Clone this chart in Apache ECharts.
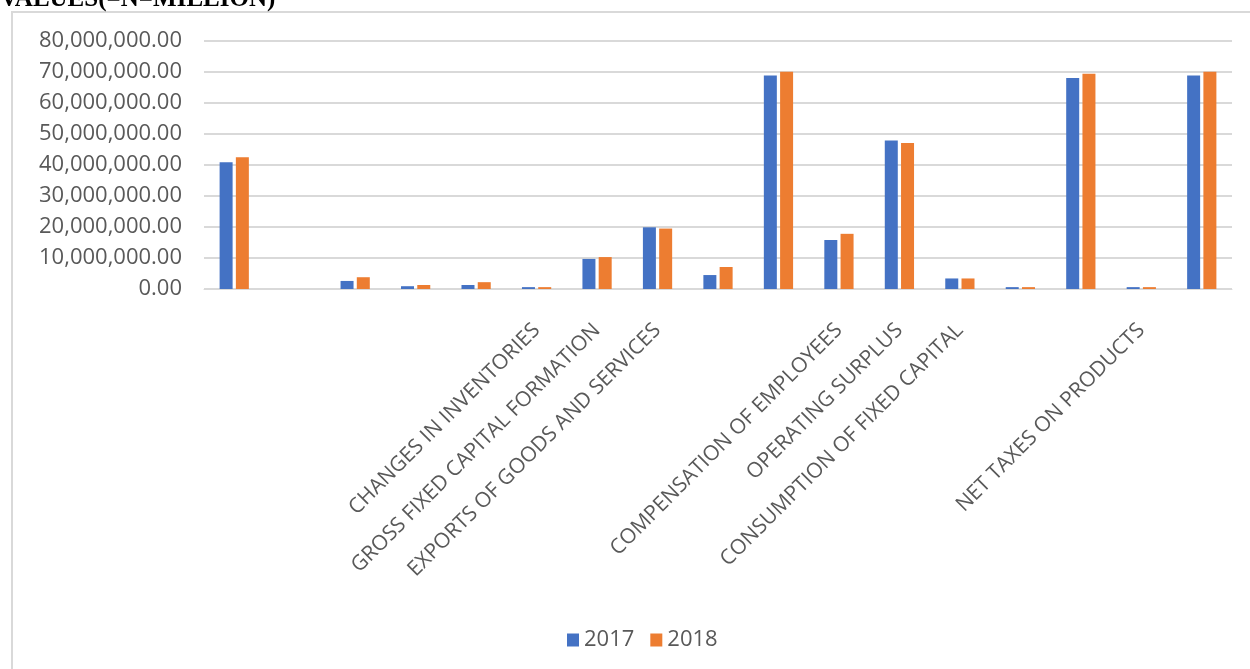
<!DOCTYPE html>
<html>
<head>
  <meta charset="utf-8">
  <title>Values (=N= million)</title>
  <style type="text/css">
    html, body { margin: 0; padding: 0; background: #fff; }
    #main { width: 1250px; height: 669px; }
  </style>
</head>
<body>
<div id="main"></div>
<script type="text/javascript" src="https://cdn.jsdelivr.net/npm/echarts@6/dist/echarts.min.js"></script>
<script type="text/javascript">
  // categories (only some of them carry a label in the source chart)
  var categories = [
    '', '', '', '', '',
    'CHANGES IN INVENTORIES',
    'GROSS FIXED CAPITAL FORMATION',
    'EXPORTS OF GOODS AND SERVICES',
    '', '',
    'COMPENSATION OF EMPLOYEES',
    'OPERATING SURPLUS',
    'CONSUMPTION OF FIXED CAPITAL',
    '', '',
    'NET TAXES ON PRODUCTS',
    ''
  ];
  var values2017 = [40900000, 0, 2600000, 900000, 1300000, 600000, 9700000, 19900000, 4500000,
    68900000, 15800000, 47900000, 3400000, 600000, 68100000, 600000, 68900000];
  var values2018 = [42500000, 0, 3800000, 1300000, 2200000, 600000, 10300000, 19500000, 7100000,
    70100000, 17800000, 47100000, 3400000, 600000, 69400000, 600000, 70100000];
  var yTicks = { min: 0, max: 80000000, step: 10000000 };

  function fmt(v) {
    var s = v.toFixed(2).split('.');
    return s[0].replace(/\B(?=(\d{3})+(?!\d))/g, ',') + '.' + s[1];
  }

  var txt = '#595959';
  var font = '"Open Sans", "Noto Sans", sans-serif';

  var myChart = echarts.init(document.getElementById('main'));
  var option = {
    animation: false,
    color: ['#4472C4', '#ED7D31'],
    graphic: [
      {
        type: 'rect',
        shape: { x: 12, y: 12, width: 1260, height: 700 },
        style: { fill: 'none', stroke: '#d9d9d9', lineWidth: 2 },
        silent: true
      },
      {
        type: 'text',
        x: 0,
        y: 12,
        style: {
          text: 'VALUES(=N=MILLION)',
          font: 'bold 25px "Liberation Serif", "Times New Roman", serif',
          fill: '#000',
          verticalAlign: 'bottom'
        },
        silent: true
      }
    ],
    grid: { left: 204, right: 18, top: 41, bottom: 380, containLabel: false },
    legend: {
      data: ['2017', '2018'],
      left: 562,
      top: 624,
      icon: 'rect',
      itemWidth: 12,
      itemHeight: 13,
      itemGap: 16,
      textStyle: { color: txt, fontSize: 22, fontFamily: font }
    },
    xAxis: {
      type: 'category',
      data: categories,
      axisLine: { show: true, lineStyle: { color: '#d9d9d9', width: 1 } },
      axisTick: { show: false },
      axisLabel: {
        interval: 0,
        rotate: 45,
        margin: 38,
        color: txt,
        fontSize: 21,
        fontFamily: font
      }
    },
    yAxis: {
      type: 'value',
      min: yTicks.min,
      max: yTicks.max,
      interval: yTicks.step,
      axisLine: { show: false },
      axisTick: { show: false },
      splitLine: { lineStyle: { color: '#d9d9d9', width: 2 } },
      axisLabel: {
        margin: 22,
        color: txt,
        fontSize: 22,
        fontFamily: font,
        formatter: fmt
      }
    },
    series: [
      {
        name: '2017',
        type: 'bar',
        data: values2017,
        barWidth: 13,
        barGap: '25%'
      },
      {
        name: '2018',
        type: 'bar',
        data: values2018,
        barWidth: 13,
        barGap: '25%'
      }
    ]
  };
  myChart.setOption(option);
</script>
</body>
</html>
